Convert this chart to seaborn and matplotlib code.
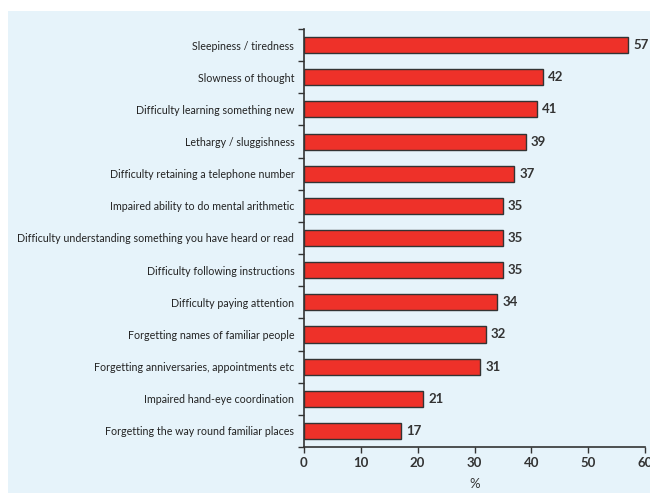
import numpy as np
import pandas as pd
import matplotlib
matplotlib.use("Agg")
import matplotlib.pyplot as plt
import seaborn as sns
from matplotlib.patches import Rectangle

symptoms = [
    "Sleepiness / tiredness",
    "Slowness of thought",
    "Difficulty learning something new",
    "Lethargy / sluggishness",
    "Difficulty retaining a telephone number",
    "Impaired ability to do mental arithmetic",
    "Difficulty understanding something you have heard or read",
    "Difficulty following instructions",
    "Difficulty paying attention",
    "Forgetting names of familiar people",
    "Forgetting anniversaries, appointments etc",
    "Impaired hand-eye coordination",
    "Forgetting the way round familiar places",
]
percent = [57, 42, 41, 39, 37, 35, 35, 35, 34, 32, 31, 21, 17]
x_ticks = [0, 10, 20, 30, 40, 50, 60]

df = pd.DataFrame({"symptom": symptoms, "percent": percent})

sns.set_theme(style="white")
plt.rcParams["font.family"] = ["Lato", "DejaVu Sans"]

bg = "#e6f3fa"
ink = "#333333"
fig = plt.figure(figsize=(6.5, 4.93), dpi=100, facecolor="white")
fig.patches.append(Rectangle((8 / 650, 0), 1, 1 - 11 / 493, transform=fig.transFigure,
                             facecolor=bg, edgecolor="none", zorder=-10))

ax = fig.add_axes([304 / 650, 1 - 447 / 493, 341 / 650, 418 / 493])
ax.set_facecolor("none")

sns.barplot(data=df, x="percent", y="symptom", orient="h", ax=ax,
            color="#ee3129", edgecolor=ink, linewidth=1.0, width=0.5,
            saturation=1)

for i, v in enumerate(percent):
    ax.text(v + 0.9, i, str(v), va="center", ha="left", fontsize=9.5,
            fontweight="bold", color=ink)

ax.set_xlim(0, 60)
ax.set_ylim(12.5, -0.5)
ax.set_xticks(x_ticks)
ax.set_xticklabels([str(t) for t in x_ticks], fontsize=9.5, fontweight="bold", color=ink)
ax.set_yticks(range(len(symptoms)))
ax.set_yticklabels(symptoms, fontsize=7.7, color="#222222")
ax.set_yticks(np.arange(-0.5, len(symptoms), 1.0), minor=True)
ax.tick_params(axis="y", which="major", length=0, pad=7)
ax.tick_params(axis="y", which="minor", length=4, width=1, color=ink, direction="out", left=True)
ax.tick_params(axis="x", which="major", length=4, width=1, color=ink, direction="out", bottom=True, pad=3)
ax.set_xlabel("%", fontsize=9.5, color=ink, labelpad=7)
ax.set_ylabel("")

for side in ["top", "right"]:
    ax.spines[side].set_visible(False)
for side in ["left", "bottom"]:
    ax.spines[side].set_color(ink)
    ax.spines[side].set_linewidth(1.2)

fig.savefig("out.png", dpi=100, facecolor="white")
